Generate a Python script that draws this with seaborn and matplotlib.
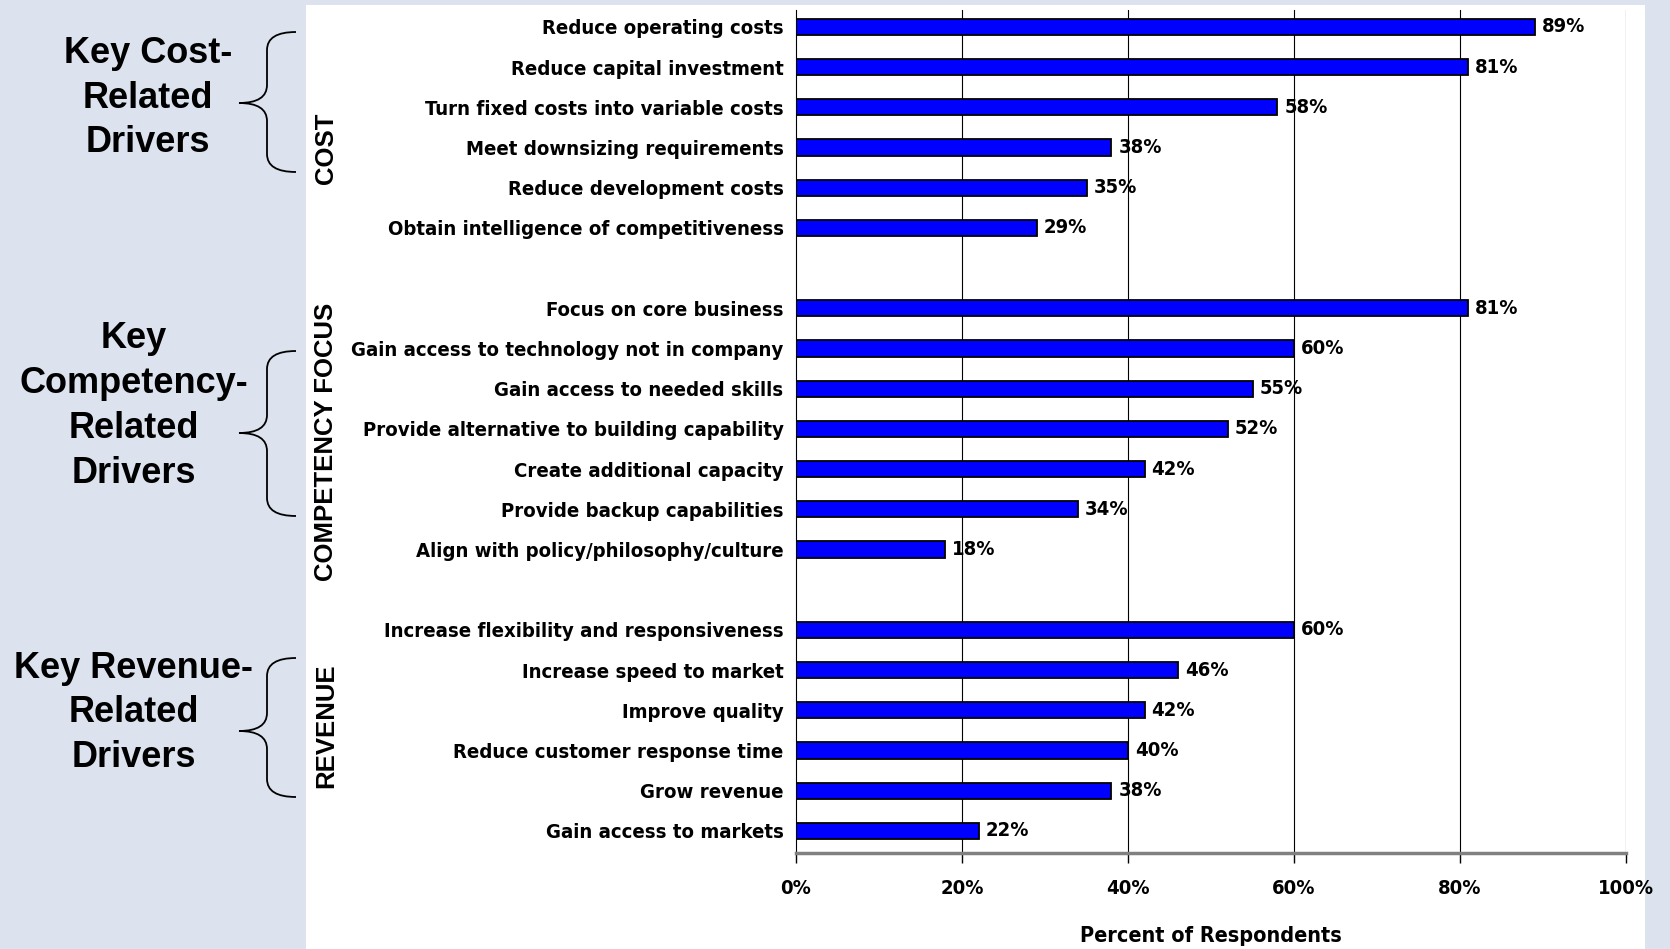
import matplotlib
matplotlib.use("Agg")
import matplotlib.pyplot as plt
import matplotlib.font_manager as fm
from matplotlib.path import Path
from matplotlib.patches import PathPatch, Rectangle
import seaborn as sns
import pandas as pd

# Survey data (percent of respondents)
cost_labels = ["Reduce operating costs", "Reduce capital investment",
               "Turn fixed costs into variable costs", "Meet downsizing requirements",
               "Reduce development costs", "Obtain intelligence of competitiveness"]
cost_values = [89, 81, 58, 38, 35, 29]

comp_labels = ["Focus on core business", "Gain access to technology not in company",
               "Gain access to needed skills", "Provide alternative to building capability",
               "Create additional capacity", "Provide backup capabilities",
               "Align with policy/philosophy/culture"]
comp_values = [81, 60, 55, 52, 42, 34, 18]

rev_labels = ["Increase flexibility and responsiveness", "Increase speed to market",
              "Improve quality", "Reduce customer response time",
              "Grow revenue", "Gain access to markets"]
rev_values = [60, 46, 42, 40, 38, 22]

xticks = [0, 20, 40, 60, 80, 100]

data = pd.DataFrame({
    "driver": cost_labels + comp_labels + rev_labels,
    "pct": cost_values + comp_values + rev_values,
})
# blank spacer rows between the three groups
order = cost_labels + [" "] + comp_labels + ["  "] + rev_labels

# pick a narrow face for the chart text if one is installed
fonts = fm.fontManager.ttflist
names = {f.name for f in fonts}
if "Liberation Sans Narrow" in names:
    narrow, stretch = ["Liberation Sans Narrow", "DejaVu Sans"], "normal"
elif any(f.name == "DejaVu Sans" and f.stretch == "condensed" for f in fonts):
    narrow, stretch = ["DejaVu Sans"], "condensed"
else:
    narrow, stretch = ["Liberation Sans", "DejaVu Sans"], "normal"
wide = ["Liberation Sans", "DejaVu Sans"]
nfont = dict(family=narrow, stretch=stretch, weight="bold")

W, H = 1670, 949
fig = plt.figure(figsize=(W / 100, H / 100), dpi=100)
fig.patch.set_facecolor("white")

# left panel and thin light frame
bg = "#dce3ee"
fig.add_artist(Rectangle((0, 0), 306 / W, 1, transform=fig.transFigure,
                         facecolor=bg, edgecolor="none", zorder=0))
fig.add_artist(Rectangle((0, 1 - 5 / H), 1, 5 / H, transform=fig.transFigure,
                         facecolor=bg, edgecolor="none", zorder=0))
fig.add_artist(Rectangle((1645 / W, 0), 1 - 1645 / W, 1, transform=fig.transFigure,
                         facecolor=bg, edgecolor="none", zorder=0))

ax = fig.add_axes([796 / W, 96 / H, (1626 - 796) / W, (939 - 96) / H])
ax.set_facecolor("none")

sns.barplot(data=data, x="pct", y="driver", order=order, orient="h",
            color="#0000FF", edgecolor="black", linewidth=1.3, width=0.4,
            saturation=1, ax=ax)

for c in ax.containers:
    ax.bar_label(c, fmt="%d%%", padding=5, fontsize=14.5, **nfont)

ax.set_xlim(0, 100)
ax.set_ylim(20.55, -0.42)
ax.set_xticks(xticks)
ax.set_xticklabels([f"{t}%" for t in xticks], fontsize=14.5, **nfont)
for lab in ax.get_yticklabels():
    lab.set_fontsize(14.6)
    lab.set_fontweight("bold")
    lab.set_family(narrow)
    lab.set_stretch(stretch)
ax.tick_params(axis="y", length=0, pad=9)
ax.tick_params(axis="x", direction="out", length=7, width=1, color="black", pad=12)

ax.set_xlabel("Percent of Respondents", fontsize=15.5, labelpad=20, **nfont)
ax.set_ylabel("")

# vertical grid lines
for t in xticks[1:]:
    ax.axvline(t, color="black", lw=0.8, zorder=0)
ax.spines["top"].set_visible(False)
ax.spines["right"].set_visible(False)
ax.spines["left"].set_color("black")
ax.spines["left"].set_linewidth(0.8)
ax.spines["bottom"].set_color("#808080")
ax.spines["bottom"].set_linewidth(2.5)


def fx(px):
    return px / W


def fy(py):
    return 1 - py / H


# group labels
for txt, yc in [("COST", 148), ("COMPETENCY FOCUS", 442), ("REVENUE", 726)]:
    fig.text(fx(326), fy(yc), txt, rotation=90, ha="center", va="center",
             fontsize=18.5, fontweight="heavy", family=wide)

# left side titles
for txt, xc, yc in [("Key Cost-\nRelated\nDrivers", 148, 98),
                    ("Key\nCompetency-\nRelated\nDrivers", 134, 406),
                    ("Key Revenue-\nRelated\nDrivers", 134, 713)]:
    fig.text(fx(xc), fy(yc), txt, ha="center", va="center", fontsize=26,
             fontweight="bold", family=wide, linespacing=1.36)


# curly braces
def brace(ytop, ybot, ytip, xr=296, xm=267, xt=239, r=18):
    pts = [(xr, ytop), (xm, ytop), (xm, ytop + r),
           (xm, ytip - r), (xm, ytip), (xt, ytip),
           (xm, ytip), (xm, ytip + r),
           (xm, ybot - r), (xm, ybot), (xr, ybot)]
    codes = [Path.MOVETO, Path.CURVE3, Path.CURVE3,
             Path.LINETO, Path.CURVE3, Path.CURVE3,
             Path.CURVE3, Path.CURVE3,
             Path.LINETO, Path.CURVE3, Path.CURVE3]
    verts = [(fx(x), fy(y)) for x, y in pts]
    fig.add_artist(PathPatch(Path(verts, codes), transform=fig.transFigure,
                             facecolor="none", edgecolor="black", lw=1.3))


brace(32, 172, 103)
brace(351, 516, 433)
brace(658, 797, 731)

fig.savefig("out.png", dpi=100)
